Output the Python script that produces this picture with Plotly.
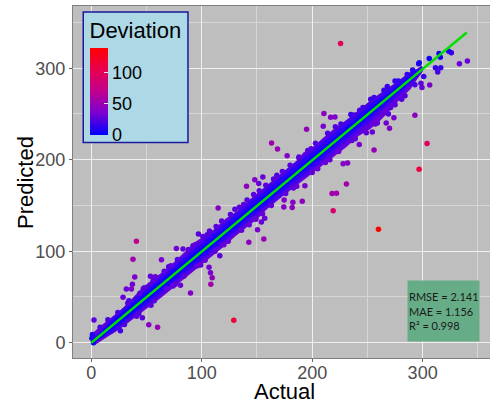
import plotly.graph_objects as go

# Outer envelope of the dense cloud
outer_actual = [0, 1.5, 10, 20, 29, 35, 42, 51, 62, 74, 83, 94, 110, 122, 134, 144, 153, 162, 171, 186, 192, 201, 210, 219, 231, 242, 251, 261, 273, 282, 292, 299, 300]
outer_upper = [3, 11, 20, 29, 38, 46, 55, 65, 75, 87, 97, 110, 123, 136, 145, 157, 166, 175, 185, 199, 208, 214, 224, 233, 243, 251, 263, 272, 281, 288, 296, 303, 300]
lower_actual = [0, 5, 14, 26, 39, 50, 62, 71, 80, 89, 107, 119, 131, 141, 151, 159, 171, 185, 207, 219, 231, 242, 252, 261, 270, 280, 289, 295, 300]
outer_lower = [-2, -1, 6, 15, 27, 37, 48, 56, 65, 75, 92, 104, 117, 127, 136, 146, 158, 171, 191, 203, 214, 226, 233, 242, 253, 267, 277, 288, 296]

# Inner colour levels of the cloud
mid_actual = [0, 20, 50, 100, 150, 200, 250, 290, 300]
mid_upper = [3, 29, 61, 112, 163, 213, 262, 297, 302]
mid_lower = [-2, 11, 39, 88, 138, 188, 238, 282, 297]
core_upper = [2, 27, 58, 109, 159, 209, 258, 295, 301]
core_lower = [-1, 13, 42, 91, 141, 192, 242, 285, 298]
center_upper = [1, 25, 55, 105, 155, 205, 254, 292, 300]
center_lower = [-1, 15, 45, 95, 145, 196, 246, 287, 299]

# Individual points: actual, predicted, deviation
actual = [225.7, 340.5, 333.3, 326, 323.6, 316, 314.8, 306, 296.4, 316.4, 313.7, 311.6, 306.4, 299.4, 298.5, 301, 293, 304, 296.8, 274, 270, 267, 269, 256, 242.6, 254.4, 249, 210.6, 216.7, 220.6, 210, 194.9, 235, 163.2, 168.6, 177.3, 228, 232, 231, 218, 222, 191, 182.5, 174.6, 140.5, 148, 155.3, 151.6, 193.4,
          219, 260, 174.3, 181.9, 156.2, 142.6, 150.5, 154, 157, 129, 40.8, 37.7, 39.3, 37.2, 2.4, 26.3, 46.2, 52, 60, 63.5, 53.5, 58, 89.8, 80.7, 77, 83, 97, 114.8, 116.3, 106.6, 107.9, 109.4, 108.2, 31.7, 28.7, 36.3,
          8, 15, 24, 33, 44, 48, 56, 66, 70, 78, 88, 92, 101, 105, 113, 118, 126, 130, 138, 141, 147, 158, 165, 173, 180, 188, 196, 203, 214, 226, 238, 246, 256, 265, 278, 286, 291, 297,
          30, 43, 57, 68, 76, 84, 96, 103, 112, 124, 136, 146, 149, 163, 176, 183, 200, 205, 212, 224, 236, 247, 259, 263, 275, 284, 293,
          0.5, 1, 2, 34, 47, 72, 94, 107, 134, 152, 168, 188, 199, 221, 243, 253, 268, 275, 41, 54, 74, 99, 120, 143, 155, 186, 216, 239, 257, 271, 281]
predicted = [327, 308, 305, 317, 318.5, 312, 316, 310.5, 305, 300.6, 296, 300.6, 281.7, 279, 283.6, 291, 248.6, 217.6, 189.6, 246, 234.4, 240, 250, 210.7, 216.5, 230.4, 229.6, 250.4, 246.4, 246.8, 236.6, 233.3, 249.3, 218.3, 211.8, 204.4, 195.7, 196.4, 173.5, 163, 163.3, 154.6, 153.5, 156, 171, 178, 181, 174, 171.6,
             144.3, 124, 148.3, 147.7, 113.4, 109.8, 123.5, 132, 136, 24.5, 110.8, 91.2, 71.8, 63.8, 24.8, 13.1, 27.3, 19.7, 16.8, 90.7, 72.6, 72, 54.3, 62.8, 103, 102.4, 118.8, 147.3, 95.1, 82.4, 76.5, 71, 63.8, 58.7, 49.6, 58.7,
             17, 25, 33, 43, 54, 60, 68, 78, 83, 91, 102, 106, 116, 118, 127, 133, 140, 146, 151, 156, 162, 172, 179, 187, 194, 203, 210, 218, 229, 239, 249, 257, 268, 276, 286, 293, 298, 306,
             20, 32, 46, 59, 64, 73, 84, 90, 100, 111, 123, 135, 135, 150, 163, 169, 186, 190, 197, 209, 221, 232, 240, 250, 260, 270, 282,
             5, 9, 0, 46, 59, 84, 107, 122, 148, 166, 183, 202, 212, 236, 254, 266, 280, 286, 29, 41, 62, 85, 107, 129, 141, 171, 200, 223, 239, 257, 266]
deviation = [100, 30, 30, 14, 12, 5, 5, 5, 8, 16, 20, 15, 35, 30, 28, 15, 45, 95, 115, 35, 38, 32, 24, 50, 35, 30, 26, 45, 40, 40, 36, 48, 16, 55, 50, 38, 40, 40, 55, 55, 55, 45, 40, 40, 45, 38, 30, 30, 35,
             90, 140, 40, 45, 50, 45, 35, 30, 30, 115, 70, 55, 38, 32, 25, 18, 25, 40, 50, 35, 30, 28, 38, 30, 32, 28, 25, 40, 25, 32, 35, 45, 55, 30, 30, 35,
             20, 20, 22, 24, 24, 26, 26, 26, 24, 24, 26, 26, 26, 22, 26, 26, 24, 26, 26, 24, 26, 24, 24, 26, 24, 24, 24, 24, 22, 22, 20, 20, 18, 16, 14, 14, 10, 8,
             20, 26, 24, 26, 28, 26, 28, 28, 26, 28, 28, 26, 30, 28, 26, 28, 28, 30, 30, 30, 28, 28, 32, 28, 26, 24, 20,
             8, 10, 4, 22, 24, 26, 26, 26, 24, 26, 24, 24, 24, 22, 20, 18, 16, 14, 26, 26, 28, 28, 30, 30, 30, 30, 28, 28, 28, 26, 24]

fit_actual = [0, 340]
fit_predicted = [0, 339]

legend_ticks = [0, 50, 100]
metric_lines = ["RMSE = 2.141", "MAE = 1.156", "R² = 0.998"]

scale = [[0, "#0000ff"], [0.25, "#7a00d0"], [0.5, "#c0008f"], [0.75, "#e8004f"], [1, "#ff0000"]]

fig = go.Figure()


def band(xs_hi, hi, xs_lo, lo, color):
    fig.add_trace(go.Scatter(x=list(xs_hi) + list(xs_lo)[::-1], y=list(hi) + list(lo)[::-1],
                             mode="lines", fill="toself", fillcolor=color,
                             line=dict(width=0, color=color), hoverinfo="skip", showlegend=False))


band(outer_actual, outer_upper, lower_actual, outer_lower, "#6800dc")
band(mid_actual, mid_upper, mid_actual, mid_lower, "#4800ea")
band(mid_actual, core_upper, mid_actual, core_lower, "#2a00f6")
band(mid_actual, center_upper, mid_actual, center_lower, "#0e00ff")

fig.add_trace(go.Scatter(
    x=actual, y=predicted, mode="markers", showlegend=False,
    marker=dict(size=5.5, color=deviation, cmin=0, cmax=140, colorscale=scale, line=dict(width=0),
                colorbar=dict(
                    title=dict(text="Deviation", side="top", font=dict(size=22, color="black", family="Liberation Sans")),
                    x=10.5 / 417, xanchor="left", y=1 - 6 / 352, yanchor="top",
                    lenmode="pixels", len=129, thicknessmode="pixels", thickness=18,
                    tickvals=legend_ticks, tickprefix="    ", ticks="inside", ticklen=4, tickcolor="#e8e8e8",
                    tickfont=dict(size=18, color="black", family="Liberation Sans"),
                    outlinewidth=0, bgcolor="#add8e6", bordercolor="#1a1a9c", borderwidth=1.5,
                    xpad=6, ypad=6))))

fig.add_trace(go.Scatter(x=fit_actual, y=fit_predicted, mode="lines", showlegend=False,
                         line=dict(color="#00e000", width=2.4)))

fig.add_annotation(xref="x", yref="y", x=285.6, y=34.7, xanchor="left", yanchor="middle", showarrow=False,
                   text="<br>".join(metric_lines), align="left", width=69, height=58,
                   bgcolor="#66ad87", borderpad=1,
                   font=dict(family="Lato", size=11, color="#1a1a1a"))

title_font = dict(family="Liberation Sans", size=22, color="black")
fig.add_annotation(xref="paper", yref="paper", x=(284.6 - 73) / 417, y=(358 - 391) / 352, text="Actual",
                   showarrow=False, xanchor="center", yanchor="middle", font=title_font)
fig.add_annotation(xref="paper", yref="paper", x=(25 - 73) / 417, y=(358 - 183) / 352, text="Predicted",
                   showarrow=False, xanchor="center", yanchor="middle", textangle=-90, font=title_font)

axis = dict(showgrid=True, gridcolor="#f0f0f0", gridwidth=1.3, zeroline=False, automargin=False,
            showline=True, linecolor="#808080", linewidth=1, mirror=True,
            ticks="outside", ticklen=3, tickcolor="#666666", tickwidth=1, dtick=100,
            tickfont=dict(family="Liberation Sans", size=18, color="#4d4d4d"),
            minor=dict(dtick=50, showgrid=True, gridcolor="#d6d6d6", gridwidth=1, ticks=""))

fig.update_layout(
    width=490, height=408, margin=dict(l=73, r=0, t=6, b=50),
    paper_bgcolor="white", plot_bgcolor="#bebebe", showlegend=False,
    xaxis=dict(axis, range=[-16.6, 361], ticklabelstandoff=-5),
    yaxis=dict(axis, range=[-16.7, 368]),
)

fig.write_html("out.html", post_script="document.body.style.margin='0';", config=dict(displayModeBar=False))
